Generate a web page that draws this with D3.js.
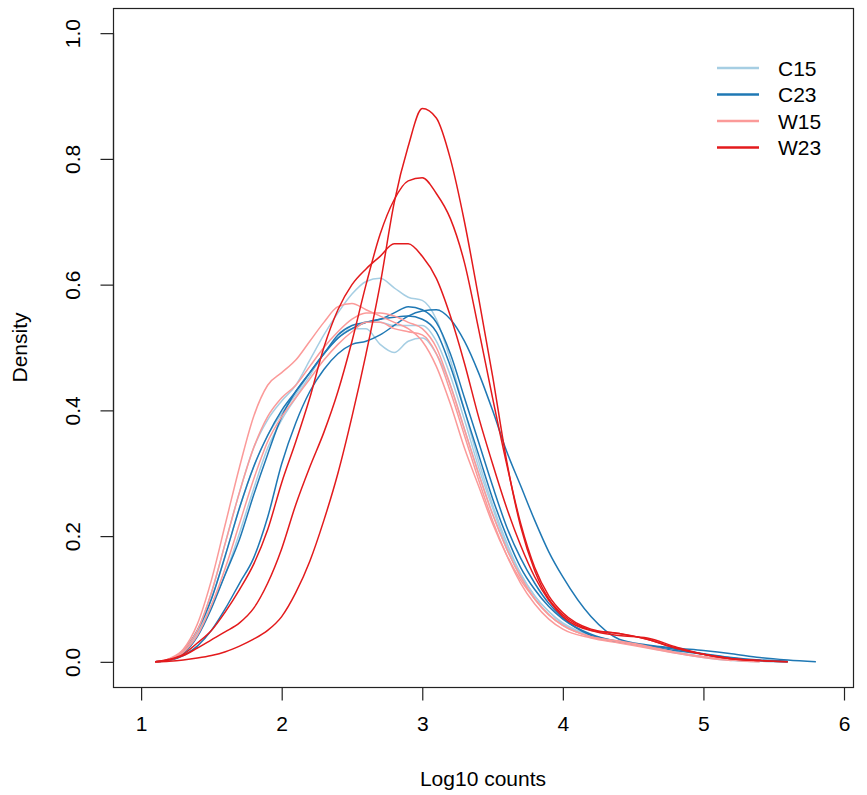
<!DOCTYPE html>
<html>
<head>
<meta charset="utf-8">
<script src="https://cdn.jsdelivr.net/npm/d3@7"></script>
<style>
  body { margin: 0; background: #fff; }
  text { font-family: "Liberation Sans", Arial, Helvetica, sans-serif; fill: #000; }
</style>
</head>
<body>
<div id="graph"></div>
<script>
//log10 count grid shared by every density curve
var logCounts = [1.1,1.2,1.3,1.4,1.5,1.6,1.7,1.8,1.9,2.0,2.1,2.2,2.3,2.4,2.5,2.6,2.7,2.8,2.9,3.0,
    3.1,3.2,3.3,3.4,3.5,3.6,3.7,3.8,3.9,4.0,4.2,4.4,4.6,4.8,5.0,5.2,5.4,5.6,5.8];

//groups for the legend
var groups = ["C15", "C23", "W15", "W23"];
var groupColors = ["#A6CEE3", "#1F78B4", "#FB9A99", "#E31A1C"];

//density values per sample (curve stops where its array ends)
var c15_1 = [0,0.004,0.017,0.05,0.11,0.19,0.27,0.34,0.385,0.415,0.44,0.48,0.52,0.555,0.585,0.605,0.61,0.595,0.58,0.575,
    0.545,0.48,0.40,0.32,0.25,0.19,0.14,0.105,0.08,0.062,0.042,0.033,0.025,0.016,0.008,0.003,0.001,0];
var c15_2 = [0,0.003,0.015,0.045,0.10,0.17,0.245,0.31,0.36,0.395,0.425,0.46,0.49,0.515,0.53,0.53,0.505,0.492,0.51,0.515,
    0.49,0.44,0.37,0.30,0.235,0.18,0.135,0.10,0.075,0.058,0.04,0.031,0.023,0.014,0.007,0.002,0];
var c15_3 = [0,0.003,0.014,0.042,0.09,0.14,0.205,0.275,0.34,0.385,0.42,0.455,0.49,0.515,0.53,0.54,0.54,0.535,0.535,0.535,
    0.51,0.455,0.385,0.31,0.245,0.185,0.14,0.105,0.08,0.06,0.042,0.032,0.024,0.015,0.008,0.003,0.001,0];
var c23_1 = [0,0.002,0.01,0.025,0.05,0.085,0.125,0.165,0.23,0.315,0.38,0.43,0.465,0.49,0.505,0.51,0.52,0.535,0.55,0.558,
    0.56,0.545,0.51,0.46,0.40,0.335,0.28,0.225,0.175,0.135,0.072,0.036,0.027,0.022,0.018,0.013,0.007,0.003,0];
var c23_2 = [0,0.003,0.013,0.04,0.085,0.14,0.195,0.265,0.33,0.39,0.43,0.46,0.49,0.52,0.535,0.54,0.545,0.555,0.565,0.56,
    0.54,0.49,0.42,0.35,0.28,0.215,0.165,0.125,0.093,0.07,0.042,0.031,0.026,0.02,0.013,0.007,0.003,0.001];
var c23_3 = [0,0.004,0.018,0.05,0.10,0.17,0.245,0.31,0.36,0.40,0.43,0.46,0.49,0.515,0.53,0.54,0.545,0.548,0.55,0.545,
    0.525,0.47,0.40,0.33,0.26,0.20,0.15,0.115,0.088,0.068,0.044,0.032,0.025,0.018,0.012,0.006,0.002,0];
var w15_1 = [0,0.005,0.02,0.06,0.13,0.22,0.31,0.39,0.44,0.46,0.48,0.51,0.54,0.565,0.57,0.56,0.55,0.54,0.53,0.51,
    0.47,0.41,0.34,0.28,0.22,0.17,0.13,0.10,0.075,0.058,0.04,0.033,0.025,0.015,0.008,0.003,0.001];
var w15_2 = [0,0.004,0.018,0.05,0.11,0.19,0.27,0.34,0.39,0.42,0.44,0.47,0.50,0.525,0.545,0.555,0.555,0.55,0.54,0.53,
    0.50,0.44,0.37,0.30,0.235,0.18,0.135,0.10,0.075,0.058,0.04,0.032,0.024,0.015,0.008,0.003,0];
var w15_3 = [0,0.003,0.015,0.042,0.09,0.15,0.22,0.29,0.35,0.39,0.42,0.45,0.48,0.505,0.525,0.54,0.54,0.53,0.525,0.52,
    0.49,0.43,0.36,0.29,0.225,0.17,0.125,0.092,0.068,0.052,0.038,0.03,0.022,0.014,0.007,0.002];
var w23_1 = [0,0.001,0.003,0.006,0.01,0.016,0.025,0.036,0.05,0.072,0.11,0.16,0.225,0.30,0.39,0.49,0.60,0.73,0.82,0.88,
    0.865,0.80,0.70,0.58,0.455,0.32,0.215,0.145,0.10,0.075,0.05,0.042,0.038,0.024,0.012,0.005,0.002,0];
var w23_2 = [0,0.003,0.01,0.022,0.035,0.048,0.062,0.085,0.125,0.18,0.25,0.31,0.365,0.43,0.51,0.60,0.68,0.735,0.765,0.77,
    0.745,0.705,0.635,0.53,0.42,0.315,0.22,0.15,0.105,0.078,0.052,0.045,0.036,0.022,0.012,0.005,0.002];
var w23_3 = [0,0.004,0.012,0.03,0.05,0.08,0.115,0.155,0.21,0.285,0.35,0.42,0.50,0.56,0.60,0.625,0.645,0.665,0.665,0.645,
    0.61,0.55,0.475,0.39,0.315,0.245,0.185,0.135,0.098,0.072,0.05,0.045,0.036,0.022,0.012,0.005,0.002,0];

//samples in drawing order, with their group
var samples = [
    {group: "C15", values: c15_1}, {group: "C15", values: c15_2}, {group: "C15", values: c15_3},
    {group: "C23", values: c23_1}, {group: "C23", values: c23_2}, {group: "C23", values: c23_3},
    {group: "W15", values: w15_1}, {group: "W15", values: w15_2}, {group: "W15", values: w15_3},
    {group: "W23", values: w23_1}, {group: "W23", values: w23_2}, {group: "W23", values: w23_3}
];

//axis ticks
var xTicks = [1, 2, 3, 4, 5, 6];
var yTicks = [0, 0.2, 0.4, 0.6, 0.8, 1.0];

function createChart() {
    const width = 867, height = 795;
    const box = {left: 113, right: 853, top: 8, bottom: 687};
    const fontSize = 21;

    const svg = d3.select("#graph").append("svg")
        .attr("width", width)
        .attr("height", height);

    const x = d3.scaleLinear().domain([0.8, 6.064]).range([box.left, box.right]);
    const y = d3.scaleLinear().domain([-0.04, 1.04]).range([box.bottom, box.top]);
    const color = d3.scaleOrdinal().domain(groups).range(groupColors);

    //density curves
    const line = d3.line()
        .x(function(d){ return x(d[0]); })
        .y(function(d){ return y(d[1]); })
        .curve(d3.curveMonotoneX);

    svg.append("g").selectAll("path")
        .data(samples)
        .enter().append("path")
        .attr("fill", "none")
        .attr("stroke", function(d){ return color(d.group); })
        .attr("stroke-width", 1.5)
        .attr("d", function(d){
            return line(d.values.map(function(v, i){ return [logCounts[i], v]; }));
        });

    //frame
    svg.append("rect")
        .attr("x", box.left + 0.5).attr("y", box.top + 0.5)
        .attr("width", box.right - box.left).attr("height", box.bottom - box.top)
        .attr("fill", "none").attr("stroke", "#222").attr("stroke-width", 1.2);

    //x axis
    const xAxis = svg.append("g")
        .attr("transform", "translate(0," + (box.bottom + 0.5) + ")")
        .call(d3.axisBottom(x).tickValues(xTicks).tickSize(13).tickPadding(16).tickFormat(d3.format("d")));
    xAxis.select(".domain").attr("d", "M" + x(1) + ",0H" + x(6)).attr("stroke", "#222").attr("stroke-width", 1.2);
    xAxis.selectAll(".tick line").attr("stroke", "#222").attr("stroke-width", 1.2);
    xAxis.selectAll(".tick text").attr("font-size", fontSize).attr("fill", "#000")
        .style("font-family", "'Liberation Sans', Arial, sans-serif");

    //y axis with rotated labels
    const yAxis = svg.append("g")
        .attr("transform", "translate(" + (box.left + 0.5) + ",0)")
        .call(d3.axisLeft(y).tickValues(yTicks).tickSize(13).tickFormat(d3.format(".1f")));
    yAxis.select(".domain").attr("d", "M0," + y(0) + "V" + y(1)).attr("stroke", "#222").attr("stroke-width", 1.2);
    yAxis.selectAll(".tick line").attr("stroke", "#222").attr("stroke-width", 1.2);
    yAxis.selectAll(".tick text")
        .attr("x", null).attr("dy", null)
        .attr("text-anchor", "middle")
        .attr("font-size", fontSize).attr("fill", "#000")
        .style("font-family", "'Liberation Sans', Arial, sans-serif")
        .attr("transform", "translate(-41,0) rotate(-90)")
        .attr("dominant-baseline", "central");

    //axis titles
    svg.append("text")
        .attr("x", (box.left + box.right) / 2)
        .attr("y", 778)
        .attr("text-anchor", "middle")
        .attr("dominant-baseline", "central")
        .attr("font-size", fontSize)
        .text("Log10 counts");

    svg.append("text")
        .attr("transform", "translate(19," + ((box.top + box.bottom) / 2) + ") rotate(-90)")
        .attr("text-anchor", "middle")
        .attr("dominant-baseline", "central")
        .attr("font-size", fontSize)
        .text("Density");

    //legend
    const legend = svg.append("g").selectAll("g")
        .data(groups)
        .enter().append("g")
        .attr("transform", function(d, i){ return "translate(717," + (68 + i * 26.5) + ")"; });

    legend.append("line")
        .attr("x1", 0).attr("x2", 42)
        .attr("stroke", function(d){ return color(d); })
        .attr("stroke-width", 2.6);

    legend.append("text")
        .attr("x", 61)
        .attr("dominant-baseline", "central")
        .attr("font-size", fontSize)
        .text(function(d){ return d; });
}

createChart();
</script>
</body>
</html>
